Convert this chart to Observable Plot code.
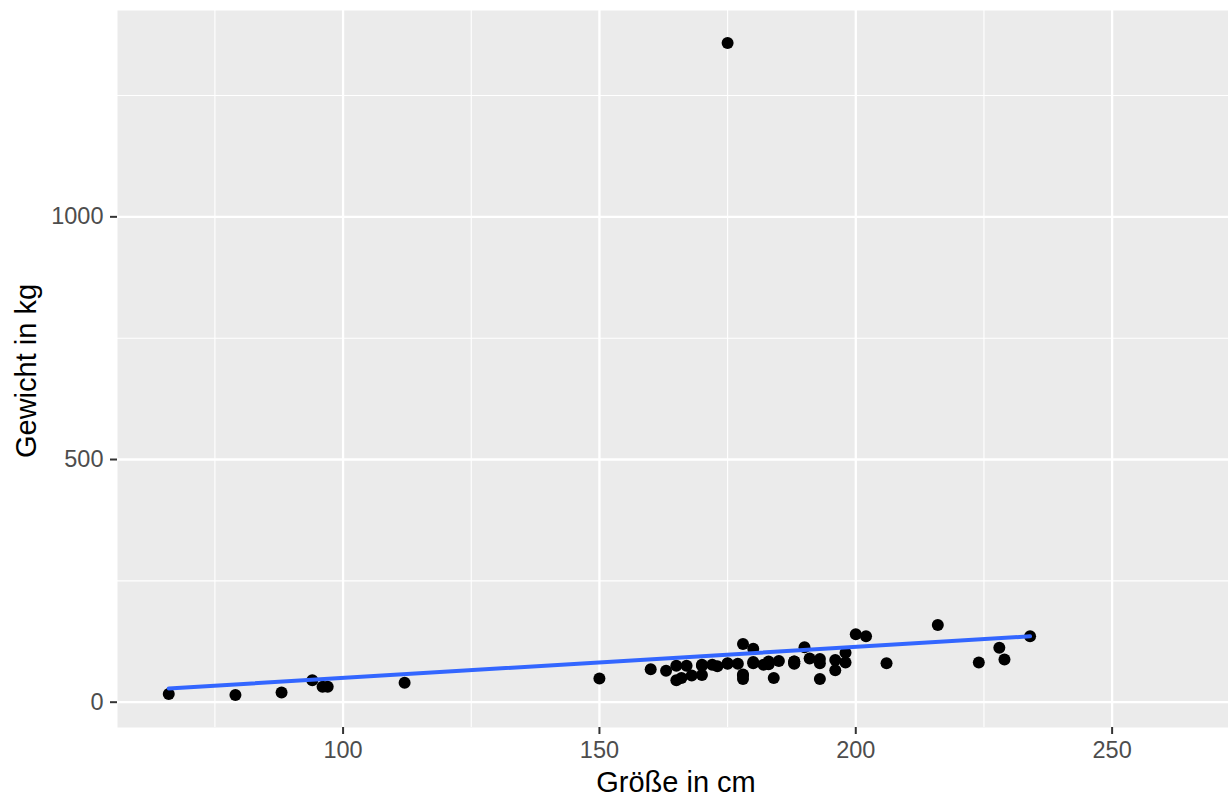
<!DOCTYPE html>
<html>
<head>
<meta charset="utf-8">
<script src="https://cdn.jsdelivr.net/npm/d3@7"></script>
<script src="https://cdn.jsdelivr.net/npm/@observablehq/plot@0.6"></script>
<style>
  html, body { margin: 0; padding: 0; background: #ffffff; }
  #chart svg { display: block; }
</style>
</head>
<body>
<div id="chart"></div>
<script>
// Star Wars characters with both height (cm) and mass (kg)
const names = ["Luke Skywalker","C-3PO","R2-D2","Darth Vader","Leia Organa","Owen Lars","Beru Whitesun lars","R5-D4","Biggs Darklighter","Obi-Wan Kenobi","Anakin Skywalker","Chewbacca","Han Solo","Greedo","Jabba Desilijic Tiure","Wedge Antilles","Jek Tono Porkins","Yoda","Palpatine","Boba Fett","IG-88","Bossk","Lando Calrissian","Lobot","Ackbar","Wicket Systri Warrick","Nien Nunb","Qui-Gon Jinn","Nute Gunray","Jar Jar Binks","Roos Tarpals","Sebulba","Darth Maul","Ayla Secura","Dud Bolt","Ben Quadinaros","Mace Windu","Ki-Adi-Mundi","Kit Fisto","Adi Gallia","Plo Koon","Gregar Typho","Poggle the Lesser","Luminara Unduli","Barriss Offee","Dooku","Jango Fett","Zam Wesell","Dexter Jettster","Lama Su","Ratts Tyerell","Wat Tambor","Shaak Ti","Grievous","Tarfful","Raymus Antilles","Sly Moore","Tion Medon","Padmé Amidala"];
const heights = [172,167,96,202,150,178,165,97,183,182,188,228,180,173,175,170,180,66,170,183,200,190,177,175,180,88,160,193,191,196,224,112,175,178,94,163,188,198,196,184,188,185,183,170,166,193,183,168,198,229,79,193,178,216,234,188,178,206,165];
const masses = [77,75,32,136,49,120,75,32,84,77,84,112,80,74,1358,77,110,17,75,78.2,140,113,79,79,83,20,68,89,90,66,82,40,80,55,45,65,84,82,87,50,80,85,80,56.2,50,80,79,55,102,88,15,48,57,159,136,79,48,80,45];

const xTicks = [100, 150, 200, 250];
const xMinor = [75, 125, 175, 225];
const yTicks = [0, 500, 1000];
const yMinor = [250, 750, 1250];

const xDomain = [56.0, 272.7];
const yDomain = [-52.15, 1425.15];

const data = names.map((n, i) => ({name: n, height: heights[i], mass: masses[i]}));

const font = "'Liberation Sans', Arial, Helvetica, sans-serif";

const chart = Plot.plot({
  width: 1228,
  height: 797,
  marginLeft: 117,
  marginRight: 0,
  marginTop: 10,
  marginBottom: 70,
  style: {fontFamily: font, background: "#ffffff"},
  x: {domain: xDomain, axis: null},
  y: {domain: yDomain, axis: null},
  marks: [
    Plot.frame({fill: "#EBEBEB", stroke: "none"}),
    Plot.gridX(xMinor, {stroke: "#ffffff", strokeOpacity: 1, strokeWidth: 1.1}),
    Plot.gridY(yMinor, {stroke: "#ffffff", strokeOpacity: 1, strokeWidth: 1.1}),
    Plot.gridX(xTicks, {stroke: "#ffffff", strokeOpacity: 1, strokeWidth: 2.3}),
    Plot.gridY(yTicks, {stroke: "#ffffff", strokeOpacity: 1, strokeWidth: 2.3}),
    Plot.axisX(xTicks, {anchor: "bottom", tickSize: 7, tickPadding: 7, fontSize: 23.5, stroke: "#333333", strokeWidth: 2, fill: "#4D4D4D", label: null, tickFormat: d => String(d)}),
    Plot.axisY(yTicks, {anchor: "left", tickSize: 7, tickPadding: 7, fontSize: 23.5, stroke: "#333333", strokeWidth: 2, fill: "#4D4D4D", label: null, tickFormat: d => String(d)}),
    Plot.dot(data, {x: "height", y: "mass", r: 6, fill: "#000000", stroke: "none"}),
    Plot.linearRegressionY(data, {x: "height", y: "mass", ci: 0, stroke: "#3366FF", strokeWidth: 4}),
    Plot.text(["Größe in cm"], {frameAnchor: "bottom", dx: 3, dy: 55, fontSize: 29, fill: "#000000", textAnchor: "middle", lineAnchor: "middle"}),
    Plot.text(["Gewicht in kg"], {frameAnchor: "left", dx: -91, dy: 2, rotate: -90, fontSize: 29, fill: "#000000", textAnchor: "middle", lineAnchor: "middle"})
  ]
});

document.getElementById("chart").appendChild(chart);
</script>
</body>
</html>
